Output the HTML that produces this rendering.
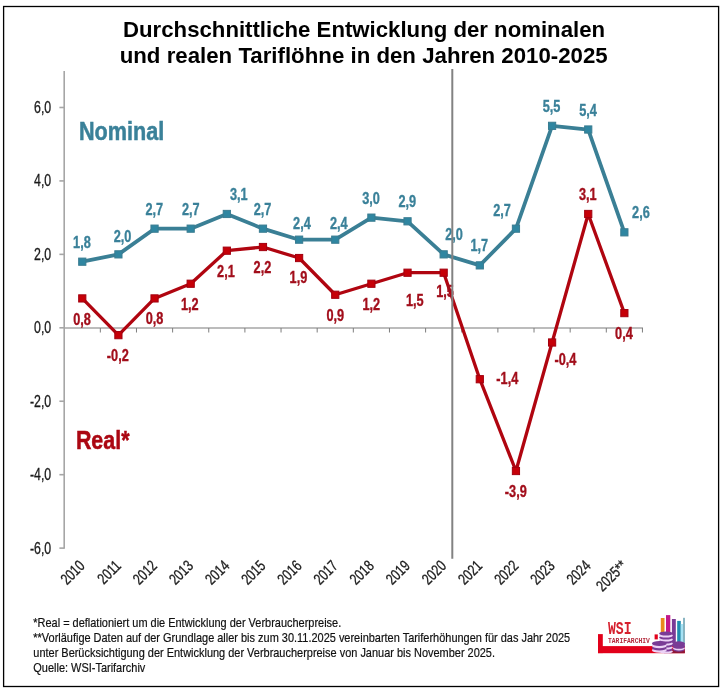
<!DOCTYPE html>
<html><head><meta charset="utf-8"><title>Tarifl&ouml;hne</title>
<style>
html,body{margin:0;padding:0;background:#fff;}
body{width:723px;height:691px;overflow:hidden;font-family:"Liberation Sans",sans-serif;}
svg{display:block;will-change:transform;filter:blur(0.45px);}
text{font-family:"Liberation Sans",sans-serif;}
</style></head><body>
<svg width="723" height="691" viewBox="0 0 723 691">
<rect x="0" y="0" width="723" height="691" fill="#ffffff"/>
<rect x="3.6" y="6.5" width="715" height="680" fill="none" stroke="#000" stroke-width="1.3"/>
<g font-weight="bold" font-size="22.2" fill="#000" text-anchor="middle">
<text x="364.05" y="36.6" textLength="482" lengthAdjust="spacingAndGlyphs">Durchschnittliche Entwicklung der nominalen</text>
<text x="363.7" y="63.1" textLength="488" lengthAdjust="spacingAndGlyphs">und realen Tarifl&ouml;hne in den Jahren 2010-2025</text>
</g>
<g stroke="#a6a6a6" stroke-width="1.6" fill="none">
<line x1="64.20" y1="71" x2="64.20" y2="548.72"/>
<line x1="59.40" y1="107.48" x2="64.20" y2="107.48"/>
<line x1="59.40" y1="180.92" x2="64.20" y2="180.92"/>
<line x1="59.40" y1="254.36" x2="64.20" y2="254.36"/>
<line x1="59.40" y1="327.80" x2="64.20" y2="327.80"/>
<line x1="59.40" y1="401.24" x2="64.20" y2="401.24"/>
<line x1="59.40" y1="474.68" x2="64.20" y2="474.68"/>
<line x1="59.40" y1="548.12" x2="64.20" y2="548.12"/>
<line x1="64.20" y1="328.05" x2="643.04" y2="328.05"/>
</g>
<g stroke="#6e6e6e" stroke-width="0.9" fill="none">
<line x1="100.34" y1="328.10" x2="100.34" y2="332.50"/>
<line x1="136.48" y1="328.10" x2="136.48" y2="332.50"/>
<line x1="172.62" y1="328.10" x2="172.62" y2="332.50"/>
<line x1="208.76" y1="328.10" x2="208.76" y2="332.50"/>
<line x1="244.90" y1="328.10" x2="244.90" y2="332.50"/>
<line x1="281.04" y1="328.10" x2="281.04" y2="332.50"/>
<line x1="317.18" y1="328.10" x2="317.18" y2="332.50"/>
<line x1="353.32" y1="328.10" x2="353.32" y2="332.50"/>
<line x1="389.46" y1="328.10" x2="389.46" y2="332.50"/>
<line x1="425.60" y1="328.10" x2="425.60" y2="332.50"/>
<line x1="461.74" y1="328.10" x2="461.74" y2="332.50"/>
<line x1="497.88" y1="328.10" x2="497.88" y2="332.50"/>
<line x1="534.02" y1="328.10" x2="534.02" y2="332.50"/>
<line x1="570.16" y1="328.10" x2="570.16" y2="332.50"/>
<line x1="606.30" y1="328.10" x2="606.30" y2="332.50"/>
<line x1="642.44" y1="328.10" x2="642.44" y2="332.50"/>
</g>
<text transform="translate(51.20,112.98) scale(0.790,1)" font-size="15.6" text-anchor="end" fill="#1a1a1a" stroke="#1a1a1a" stroke-width="0.3">6,0</text>
<text transform="translate(51.20,186.42) scale(0.790,1)" font-size="15.6" text-anchor="end" fill="#1a1a1a" stroke="#1a1a1a" stroke-width="0.3">4,0</text>
<text transform="translate(51.20,259.86) scale(0.790,1)" font-size="15.6" text-anchor="end" fill="#1a1a1a" stroke="#1a1a1a" stroke-width="0.3">2,0</text>
<text transform="translate(51.20,333.30) scale(0.790,1)" font-size="15.6" text-anchor="end" fill="#1a1a1a" stroke="#1a1a1a" stroke-width="0.3">0,0</text>
<text transform="translate(51.20,406.74) scale(0.790,1)" font-size="15.6" text-anchor="end" fill="#1a1a1a" stroke="#1a1a1a" stroke-width="0.3">-2,0</text>
<text transform="translate(51.20,480.18) scale(0.790,1)" font-size="15.6" text-anchor="end" fill="#1a1a1a" stroke="#1a1a1a" stroke-width="0.3">-4,0</text>
<text transform="translate(51.20,553.62) scale(0.790,1)" font-size="15.6" text-anchor="end" fill="#1a1a1a" stroke="#1a1a1a" stroke-width="0.3">-6,0</text>
<text transform="translate(85.77,566.80) rotate(-45) scale(0.767,1)" font-size="15.6" text-anchor="end" fill="#1a1a1a" stroke="#1a1a1a" stroke-width="0.3">2010</text>
<text transform="translate(121.91,566.80) rotate(-45) scale(0.767,1)" font-size="15.6" text-anchor="end" fill="#1a1a1a" stroke="#1a1a1a" stroke-width="0.3">2011</text>
<text transform="translate(158.05,566.80) rotate(-45) scale(0.767,1)" font-size="15.6" text-anchor="end" fill="#1a1a1a" stroke="#1a1a1a" stroke-width="0.3">2012</text>
<text transform="translate(194.19,566.80) rotate(-45) scale(0.767,1)" font-size="15.6" text-anchor="end" fill="#1a1a1a" stroke="#1a1a1a" stroke-width="0.3">2013</text>
<text transform="translate(230.33,566.80) rotate(-45) scale(0.767,1)" font-size="15.6" text-anchor="end" fill="#1a1a1a" stroke="#1a1a1a" stroke-width="0.3">2014</text>
<text transform="translate(266.47,566.80) rotate(-45) scale(0.767,1)" font-size="15.6" text-anchor="end" fill="#1a1a1a" stroke="#1a1a1a" stroke-width="0.3">2015</text>
<text transform="translate(302.61,566.80) rotate(-45) scale(0.767,1)" font-size="15.6" text-anchor="end" fill="#1a1a1a" stroke="#1a1a1a" stroke-width="0.3">2016</text>
<text transform="translate(338.75,566.80) rotate(-45) scale(0.767,1)" font-size="15.6" text-anchor="end" fill="#1a1a1a" stroke="#1a1a1a" stroke-width="0.3">2017</text>
<text transform="translate(374.89,566.80) rotate(-45) scale(0.767,1)" font-size="15.6" text-anchor="end" fill="#1a1a1a" stroke="#1a1a1a" stroke-width="0.3">2018</text>
<text transform="translate(411.03,566.80) rotate(-45) scale(0.767,1)" font-size="15.6" text-anchor="end" fill="#1a1a1a" stroke="#1a1a1a" stroke-width="0.3">2019</text>
<text transform="translate(447.17,566.80) rotate(-45) scale(0.767,1)" font-size="15.6" text-anchor="end" fill="#1a1a1a" stroke="#1a1a1a" stroke-width="0.3">2020</text>
<text transform="translate(483.31,566.80) rotate(-45) scale(0.767,1)" font-size="15.6" text-anchor="end" fill="#1a1a1a" stroke="#1a1a1a" stroke-width="0.3">2021</text>
<text transform="translate(519.45,566.80) rotate(-45) scale(0.767,1)" font-size="15.6" text-anchor="end" fill="#1a1a1a" stroke="#1a1a1a" stroke-width="0.3">2022</text>
<text transform="translate(555.59,566.80) rotate(-45) scale(0.767,1)" font-size="15.6" text-anchor="end" fill="#1a1a1a" stroke="#1a1a1a" stroke-width="0.3">2023</text>
<text transform="translate(591.73,566.80) rotate(-45) scale(0.767,1)" font-size="15.6" text-anchor="end" fill="#1a1a1a" stroke="#1a1a1a" stroke-width="0.3">2024</text>
<text transform="translate(627.87,566.80) rotate(-45) scale(0.767,1)" font-size="15.6" text-anchor="end" fill="#1a1a1a" stroke="#1a1a1a" stroke-width="0.3">2025**</text>
<polyline points="82.27,261.70 118.41,254.36 154.55,228.66 190.69,228.66 226.83,213.97 262.97,228.66 299.11,239.67 335.25,239.67 371.39,217.64 407.53,221.31 443.67,254.36 479.81,265.38 515.95,228.66 552.09,125.84 588.23,129.51 624.37,232.33" fill="none" stroke="#3a7f95" stroke-width="3.75" stroke-linejoin="round"/>
<rect x="78.67" y="258.10" width="7.2" height="7.2" fill="#2f86a1" stroke="#3a7c91" stroke-width="1"/>
<rect x="114.81" y="250.76" width="7.2" height="7.2" fill="#2f86a1" stroke="#3a7c91" stroke-width="1"/>
<rect x="150.95" y="225.06" width="7.2" height="7.2" fill="#2f86a1" stroke="#3a7c91" stroke-width="1"/>
<rect x="187.09" y="225.06" width="7.2" height="7.2" fill="#2f86a1" stroke="#3a7c91" stroke-width="1"/>
<rect x="223.23" y="210.37" width="7.2" height="7.2" fill="#2f86a1" stroke="#3a7c91" stroke-width="1"/>
<rect x="259.37" y="225.06" width="7.2" height="7.2" fill="#2f86a1" stroke="#3a7c91" stroke-width="1"/>
<rect x="295.51" y="236.07" width="7.2" height="7.2" fill="#2f86a1" stroke="#3a7c91" stroke-width="1"/>
<rect x="331.65" y="236.07" width="7.2" height="7.2" fill="#2f86a1" stroke="#3a7c91" stroke-width="1"/>
<rect x="367.79" y="214.04" width="7.2" height="7.2" fill="#2f86a1" stroke="#3a7c91" stroke-width="1"/>
<rect x="403.93" y="217.71" width="7.2" height="7.2" fill="#2f86a1" stroke="#3a7c91" stroke-width="1"/>
<rect x="440.07" y="250.76" width="7.2" height="7.2" fill="#2f86a1" stroke="#3a7c91" stroke-width="1"/>
<rect x="476.21" y="261.78" width="7.2" height="7.2" fill="#2f86a1" stroke="#3a7c91" stroke-width="1"/>
<rect x="512.35" y="225.06" width="7.2" height="7.2" fill="#2f86a1" stroke="#3a7c91" stroke-width="1"/>
<rect x="548.49" y="122.24" width="7.2" height="7.2" fill="#2f86a1" stroke="#3a7c91" stroke-width="1"/>
<rect x="584.63" y="125.91" width="7.2" height="7.2" fill="#2f86a1" stroke="#3a7c91" stroke-width="1"/>
<rect x="620.77" y="228.73" width="7.2" height="7.2" fill="#2f86a1" stroke="#3a7c91" stroke-width="1"/>
<polyline points="82.27,298.42 118.41,335.14 154.55,298.42 190.69,283.74 226.83,250.69 262.97,247.02 299.11,258.03 335.25,294.75 371.39,283.74 407.53,272.72 443.67,272.72 479.81,379.21 515.95,471.01 552.09,342.49 588.23,213.97 624.37,313.11" fill="none" stroke="#b00510" stroke-width="3.30" stroke-linejoin="round"/>
<rect x="78.67" y="294.82" width="7.2" height="7.2" fill="#c60008" stroke="#a2000f" stroke-width="1"/>
<rect x="114.81" y="331.54" width="7.2" height="7.2" fill="#c60008" stroke="#a2000f" stroke-width="1"/>
<rect x="150.95" y="294.82" width="7.2" height="7.2" fill="#c60008" stroke="#a2000f" stroke-width="1"/>
<rect x="187.09" y="280.14" width="7.2" height="7.2" fill="#c60008" stroke="#a2000f" stroke-width="1"/>
<rect x="223.23" y="247.09" width="7.2" height="7.2" fill="#c60008" stroke="#a2000f" stroke-width="1"/>
<rect x="259.37" y="243.42" width="7.2" height="7.2" fill="#c60008" stroke="#a2000f" stroke-width="1"/>
<rect x="295.51" y="254.43" width="7.2" height="7.2" fill="#c60008" stroke="#a2000f" stroke-width="1"/>
<rect x="331.65" y="291.15" width="7.2" height="7.2" fill="#c60008" stroke="#a2000f" stroke-width="1"/>
<rect x="367.79" y="280.14" width="7.2" height="7.2" fill="#c60008" stroke="#a2000f" stroke-width="1"/>
<rect x="403.93" y="269.12" width="7.2" height="7.2" fill="#c60008" stroke="#a2000f" stroke-width="1"/>
<rect x="440.07" y="269.12" width="7.2" height="7.2" fill="#c60008" stroke="#a2000f" stroke-width="1"/>
<rect x="476.21" y="375.61" width="7.2" height="7.2" fill="#c60008" stroke="#a2000f" stroke-width="1"/>
<rect x="512.35" y="467.41" width="7.2" height="7.2" fill="#c60008" stroke="#a2000f" stroke-width="1"/>
<rect x="548.49" y="338.89" width="7.2" height="7.2" fill="#c60008" stroke="#a2000f" stroke-width="1"/>
<rect x="584.63" y="210.37" width="7.2" height="7.2" fill="#c60008" stroke="#a2000f" stroke-width="1"/>
<rect x="620.77" y="309.51" width="7.2" height="7.2" fill="#c60008" stroke="#a2000f" stroke-width="1"/>
<text transform="translate(81.90,247.70) scale(0.800,1)" font-size="15.9" font-weight="bold" text-anchor="middle" fill="#3a8199" stroke="#3a8199" stroke-width="0.35">1,8</text>
<text transform="translate(122.55,242.10) scale(0.800,1)" font-size="15.9" font-weight="bold" text-anchor="middle" fill="#3a8199" stroke="#3a8199" stroke-width="0.35">2,0</text>
<text transform="translate(154.20,214.70) scale(0.800,1)" font-size="15.9" font-weight="bold" text-anchor="middle" fill="#3a8199" stroke="#3a8199" stroke-width="0.35">2,7</text>
<text transform="translate(190.70,214.60) scale(0.800,1)" font-size="15.9" font-weight="bold" text-anchor="middle" fill="#3a8199" stroke="#3a8199" stroke-width="0.35">2,7</text>
<text transform="translate(238.80,199.60) scale(0.800,1)" font-size="15.9" font-weight="bold" text-anchor="middle" fill="#3a8199" stroke="#3a8199" stroke-width="0.35">3,1</text>
<text transform="translate(262.50,214.60) scale(0.800,1)" font-size="15.9" font-weight="bold" text-anchor="middle" fill="#3a8199" stroke="#3a8199" stroke-width="0.35">2,7</text>
<text transform="translate(301.90,228.90) scale(0.800,1)" font-size="15.9" font-weight="bold" text-anchor="middle" fill="#3a8199" stroke="#3a8199" stroke-width="0.35">2,4</text>
<text transform="translate(338.80,228.90) scale(0.800,1)" font-size="15.9" font-weight="bold" text-anchor="middle" fill="#3a8199" stroke="#3a8199" stroke-width="0.35">2,4</text>
<text transform="translate(371.05,203.70) scale(0.800,1)" font-size="15.9" font-weight="bold" text-anchor="middle" fill="#3a8199" stroke="#3a8199" stroke-width="0.35">3,0</text>
<text transform="translate(407.20,207.20) scale(0.800,1)" font-size="15.9" font-weight="bold" text-anchor="middle" fill="#3a8199" stroke="#3a8199" stroke-width="0.35">2,9</text>
<text transform="translate(454.05,239.70) scale(0.800,1)" font-size="15.9" font-weight="bold" text-anchor="middle" fill="#3a8199" stroke="#3a8199" stroke-width="0.35">2,0</text>
<text transform="translate(479.30,251.40) scale(0.800,1)" font-size="15.9" font-weight="bold" text-anchor="middle" fill="#3a8199" stroke="#3a8199" stroke-width="0.35">1,7</text>
<text transform="translate(502.10,215.60) scale(0.800,1)" font-size="15.9" font-weight="bold" text-anchor="middle" fill="#3a8199" stroke="#3a8199" stroke-width="0.35">2,7</text>
<text transform="translate(551.60,111.70) scale(0.800,1)" font-size="15.9" font-weight="bold" text-anchor="middle" fill="#3a8199" stroke="#3a8199" stroke-width="0.35">5,5</text>
<text transform="translate(588.10,115.50) scale(0.800,1)" font-size="15.9" font-weight="bold" text-anchor="middle" fill="#3a8199" stroke="#3a8199" stroke-width="0.35">5,4</text>
<text transform="translate(640.90,218.30) scale(0.800,1)" font-size="15.9" font-weight="bold" text-anchor="middle" fill="#3a8199" stroke="#3a8199" stroke-width="0.35">2,6</text>
<text transform="translate(82.10,324.50) scale(0.800,1)" font-size="15.9" font-weight="bold" text-anchor="middle" fill="#a20e1b" stroke="#a20e1b" stroke-width="0.35">0,8</text>
<text transform="translate(117.80,360.90) scale(0.800,1)" font-size="15.9" font-weight="bold" text-anchor="middle" fill="#a20e1b" stroke="#a20e1b" stroke-width="0.35">-0,2</text>
<text transform="translate(154.60,324.40) scale(0.800,1)" font-size="15.9" font-weight="bold" text-anchor="middle" fill="#a20e1b" stroke="#a20e1b" stroke-width="0.35">0,8</text>
<text transform="translate(189.80,309.60) scale(0.800,1)" font-size="15.9" font-weight="bold" text-anchor="middle" fill="#a20e1b" stroke="#a20e1b" stroke-width="0.35">1,2</text>
<text transform="translate(225.90,276.70) scale(0.800,1)" font-size="15.9" font-weight="bold" text-anchor="middle" fill="#a20e1b" stroke="#a20e1b" stroke-width="0.35">2,1</text>
<text transform="translate(262.40,272.80) scale(0.800,1)" font-size="15.9" font-weight="bold" text-anchor="middle" fill="#a20e1b" stroke="#a20e1b" stroke-width="0.35">2,2</text>
<text transform="translate(298.40,283.10) scale(0.800,1)" font-size="15.9" font-weight="bold" text-anchor="middle" fill="#a20e1b" stroke="#a20e1b" stroke-width="0.35">1,9</text>
<text transform="translate(335.30,320.50) scale(0.800,1)" font-size="15.9" font-weight="bold" text-anchor="middle" fill="#a20e1b" stroke="#a20e1b" stroke-width="0.35">0,9</text>
<text transform="translate(371.20,309.60) scale(0.800,1)" font-size="15.9" font-weight="bold" text-anchor="middle" fill="#a20e1b" stroke="#a20e1b" stroke-width="0.35">1,2</text>
<text transform="translate(414.70,305.80) scale(0.800,1)" font-size="15.9" font-weight="bold" text-anchor="middle" fill="#a20e1b" stroke="#a20e1b" stroke-width="0.35">1,5</text>
<text transform="translate(445.10,296.60) scale(0.800,1)" font-size="15.9" font-weight="bold" text-anchor="middle" fill="#a20e1b" stroke="#a20e1b" stroke-width="0.35">1,5</text>
<text transform="translate(507.30,383.80) scale(0.800,1)" font-size="15.9" font-weight="bold" text-anchor="middle" fill="#a20e1b" stroke="#a20e1b" stroke-width="0.35">-1,4</text>
<text transform="translate(515.80,496.70) scale(0.800,1)" font-size="15.9" font-weight="bold" text-anchor="middle" fill="#a20e1b" stroke="#a20e1b" stroke-width="0.35">-3,9</text>
<text transform="translate(565.40,365.00) scale(0.800,1)" font-size="15.9" font-weight="bold" text-anchor="middle" fill="#a20e1b" stroke="#a20e1b" stroke-width="0.35">-0,4</text>
<text transform="translate(587.70,200.00) scale(0.800,1)" font-size="15.9" font-weight="bold" text-anchor="middle" fill="#a20e1b" stroke="#a20e1b" stroke-width="0.35">3,1</text>
<text transform="translate(623.90,339.20) scale(0.800,1)" font-size="15.9" font-weight="bold" text-anchor="middle" fill="#a20e1b" stroke="#a20e1b" stroke-width="0.35">0,4</text>
<text transform="translate(79,139.9) scale(0.838,1)" font-size="25.8" font-weight="bold" fill="#3a8199" stroke="#3a8199" stroke-width="0.5">Nominal</text>
<text transform="translate(75.9,448.9) scale(0.818,1)" font-size="26.2" font-weight="bold" fill="#ab0712" stroke="#ab0712" stroke-width="0.5">Real*</text>
<line x1="452.3" y1="69" x2="452.3" y2="558.8" stroke="#828282" stroke-width="2.0"/>
<text transform="translate(33.3,627.20) scale(0.863,1)" font-size="12.7" fill="#111" stroke="#111" stroke-width="0.2">*Real = deflationiert um die Entwicklung der Verbraucherpreise.</text>
<text transform="translate(33.3,642.20) scale(0.863,1)" font-size="12.7" fill="#111" stroke="#111" stroke-width="0.2">**Vorl&auml;ufige Daten auf der Grundlage aller bis zum 30.11.2025 vereinbarten Tariferh&ouml;hungen f&uuml;r das Jahr 2025</text>
<text transform="translate(33.3,657.20) scale(0.863,1)" font-size="12.7" fill="#111" stroke="#111" stroke-width="0.2">unter Ber&uuml;cksichtigung der Entwicklung der Verbraucherpreise von Januar bis November 2025.</text>
<text transform="translate(33.3,672.20) scale(0.863,1)" font-size="12.7" fill="#111" stroke="#111" stroke-width="0.2">Quelle: WSI-Tarifarchiv</text>
<g id="logo">
<rect x="660.8" y="618.0" width="3.7" height="17" fill="#e98a1d"/>
<rect x="666.0" y="615.1" width="4.3" height="20" fill="#c2188b"/>
<rect x="671.9" y="619.0" width="3.9" height="28" fill="#7a3b96"/>
<rect x="677.2" y="620.9" width="3.6" height="23" fill="#1f8db0"/>
<rect x="680.8" y="624.0" width="2.4" height="20" fill="#a6e2f4"/>
<rect x="683.2" y="617.8" width="1.6" height="26" fill="#6ea3b3"/>
<rect x="598" y="634.1" width="4.8" height="19" fill="#e2001a"/>
<rect x="598" y="646.1" width="86.8" height="7.1" fill="#e2001a"/>
<rect x="654.6" y="634.4" width="3.2" height="5" fill="#e2001a"/>
<rect x="664" y="650.3" width="20.8" height="2.9" fill="#8f1636"/>
<ellipse cx="678.9" cy="649.6" rx="5.95" ry="2.1" fill="#7a3b96"/>
<ellipse cx="678.9" cy="648.3" rx="5.95" ry="2.1" fill="#ecd2f6"/>
<rect x="672.95" y="643.3" width="11.9" height="3.4" fill="#7a3b96"/>
<ellipse cx="678.9" cy="646.7" rx="5.95" ry="2.1" fill="#7a3b96"/>
<ellipse cx="678.9" cy="643.3" rx="5.95" ry="2.0" fill="#7a3b96"/>
<ellipse cx="666.0" cy="651.5" rx="6.9" ry="2.1" fill="#ecd2f6"/>
<ellipse cx="666.0" cy="649.5" rx="6.9" ry="2.1" fill="#7a3b96"/>
<ellipse cx="666.0" cy="647.5" rx="6.9" ry="2.1" fill="#ecd2f6"/>
<ellipse cx="666.0" cy="645.5" rx="6.9" ry="2.1" fill="#7a3b96"/>
<ellipse cx="666.0" cy="643.5" rx="6.9" ry="2.1" fill="#ecd2f6"/>
<ellipse cx="666.0" cy="641.5" rx="6.9" ry="2.1" fill="#7a3b96"/>
<ellipse cx="666.0" cy="639.5" rx="6.9" ry="2.1" fill="#ecd2f6"/>
<ellipse cx="666.0" cy="637.5" rx="6.9" ry="2.1" fill="#7a3b96"/>
<ellipse cx="666.0" cy="635.5" rx="6.9" ry="2.1" fill="#ecd2f6"/>
<ellipse cx="666.0" cy="633.5" rx="6.9" ry="2.1" fill="#7a3b96"/>
<ellipse cx="659.3" cy="650.2" rx="7.4" ry="2.5" fill="#ecd2f6"/>
<ellipse cx="659.3" cy="647.9" rx="7.4" ry="2.5" fill="#7a3b96"/>
<ellipse cx="659.3" cy="645.7" rx="7.4" ry="2.5" fill="#ecd2f6"/>
<ellipse cx="659.3" cy="643.4" rx="7.4" ry="2.5" fill="#7a3b96"/>
<text transform="translate(608.0,633.6) scale(0.72,1)" style="font-family:&quot;Liberation Mono&quot;,monospace" font-weight="bold" font-size="18.2" fill="#d6202e">WSI</text>
<text transform="translate(608.0,643.0) scale(0.795,1)" style="font-family:&quot;Liberation Mono&quot;,monospace" font-weight="bold" font-size="8" fill="#b4283a">TARIFARCHIV</text>
</g>
</svg>
</body></html>
